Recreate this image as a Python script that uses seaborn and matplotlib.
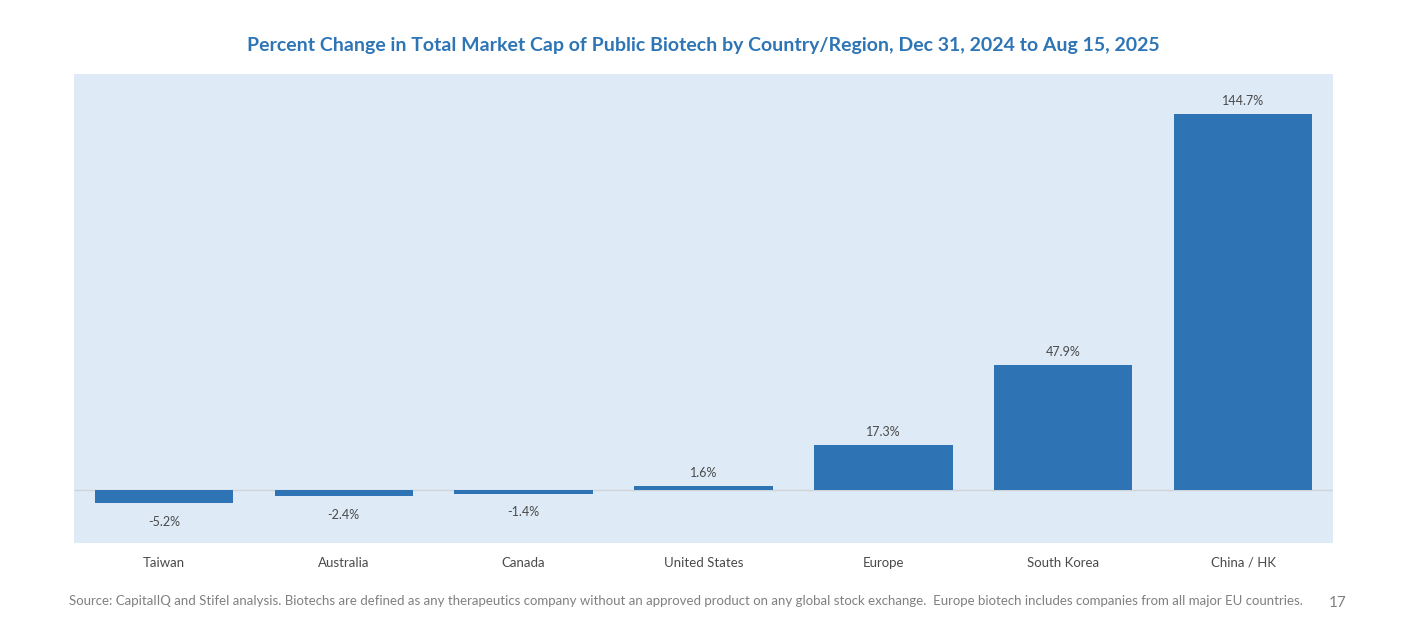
import matplotlib
matplotlib.use("Agg")
import matplotlib.pyplot as plt
import seaborn as sns
import pandas as pd

categories = ["Taiwan", "Australia", "Canada", "United States", "Europe", "South Korea", "China / HK"]
pct_change = [-5.2, -2.4, -1.4, 1.6, 17.3, 47.9, 144.7]
value_labels = ["-5.2%", "-2.4%", "-1.4%", "1.6%", "17.3%", "47.9%", "144.7%"]

df = pd.DataFrame({"region": categories, "pct": pct_change})

sns.set_theme(style="white")
plt.rcParams["font.family"] = ["Lato", "DejaVu Sans"]

BAR = "#2E74B5"
BG = "#DEEAF6"

fig = plt.figure(figsize=(14.01, 6.17), dpi=100)
ax = fig.add_axes([74/1401, 1 - 543/617, (1333-74)/1401, (543-74)/617])
ax.set_facecolor(BG)

sns.barplot(data=df, x="region", y="pct", color=BAR, width=0.77, saturation=1,
            linewidth=0, edgecolor=BAR, ax=ax, zorder=3)
ax.set_ylim(-20.4, 160)
ax.set_xlim(-0.5, 6.5)
ax.axhline(0, color="#d0d5da", lw=1.0, zorder=2)

for i, (v, lab) in enumerate(zip(pct_change, value_labels)):
    if v >= 0:
        ax.annotate(lab, (i, v), xytext=(0, 5), textcoords="offset points",
                    ha="center", va="bottom", fontsize=9, color="#4a4a4a")
    else:
        ax.annotate(lab, (i, v), xytext=(0, -9), textcoords="offset points",
                    ha="center", va="top", fontsize=9, color="#4a4a4a")

ax.set_xlabel("")
ax.set_ylabel("")
ax.set_yticks([])
ax.tick_params(axis="x", length=0, pad=10, labelsize=9.5, labelcolor="#4a4a4a")
for s in ax.spines.values():
    s.set_visible(False)

fig.text(703/1401, 1 - 45/617, "Percent Change in Total Market Cap of Public Biotech by Country/Region, Dec 31, 2024 to Aug 15, 2025",
         ha="center", va="center", fontsize=14, fontweight="bold", color="#2E75B6")
fig.text(69/1401, 1 - 601/617,
         "Source: CapitalIQ and Stifel analysis. Biotechs are defined as any therapeutics company without an approved product on any global stock exchange.  Europe biotech includes companies from all major EU countries.",
         ha="left", va="center", fontsize=9.5, color="#808080")
fig.text(1338/1401, 1 - 603/617, "17", ha="center", va="center", fontsize=11, color="#808080")

fig.savefig("out.png", dpi=100, facecolor="white")
